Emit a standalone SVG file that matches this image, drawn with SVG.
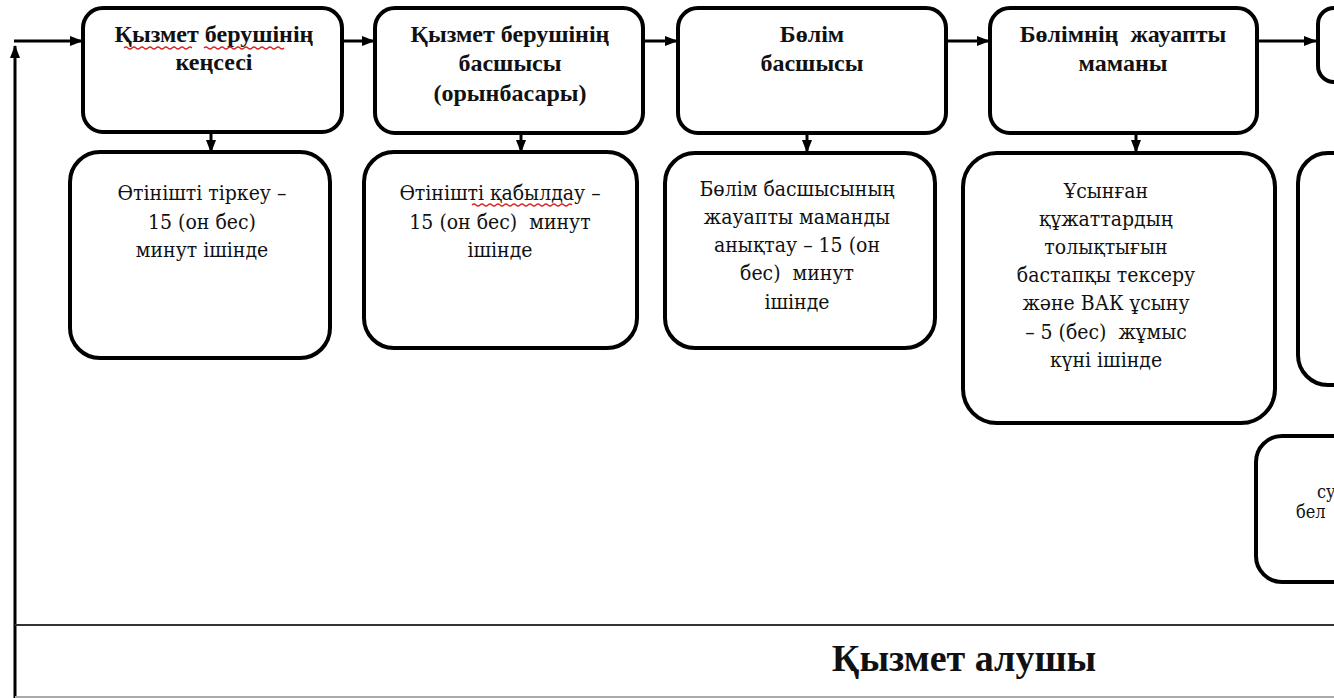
<svg xmlns="http://www.w3.org/2000/svg" width="1334" height="698" viewBox="0 0 1334 698">
<defs>
<style>
.box{fill:#fff;stroke:#000;stroke-width:4}
.con{fill:none;stroke:#000;stroke-width:3}
.t{font-family:"Liberation Serif","Times New Roman",serif;font-weight:bold;font-size:24px;fill:#111;text-anchor:middle}
.b{font-family:"DejaVu Serif Condensed","DejaVu Serif",serif;font-stretch:condensed;font-size:21px;fill:#111;text-anchor:middle}
.s{font-family:"DejaVu Serif Condensed","DejaVu Serif",serif;font-stretch:condensed;font-size:18px;fill:#111}
.wave{fill:none;stroke:#d22;stroke-width:1.2}
</style>
<marker id="ah" markerWidth="13" markerHeight="12" refX="12" refY="6" orient="auto" markerUnits="userSpaceOnUse">
<path d="M0,1 L13,6 L0,11 Z" fill="#000"/>
</marker>
</defs>
<rect width="1334" height="698" fill="#fff"/>

<g id="connectors">
<path class="con" d="M15,698 V46" marker-end="url(#ah)"/>
<path class="con" d="M14,41 H82" marker-end="url(#ah)"/>
<path class="con" d="M342,41 H374" marker-end="url(#ah)"/>
<path class="con" d="M643,41 H677" marker-end="url(#ah)"/>
<path class="con" d="M946,41 H989" marker-end="url(#ah)"/>
<path class="con" d="M1257,41 H1316" marker-end="url(#ah)"/>
<path class="con" d="M211,132 V152" marker-end="url(#ah)"/>
<path class="con" d="M521,133 V152" marker-end="url(#ah)"/>
<path class="con" d="M807,133 V152" marker-end="url(#ah)"/>
<path class="con" d="M1136,133 V152" marker-end="url(#ah)"/>
</g>

<g id="n1"><rect class="box" x="83" y="8" width="259" height="124" rx="20"/>
<text class="t" x="214" y="42">Қызмет берушінің</text><text class="t" x="214" y="70">кеңсесі</text>
<path class="wave" d="M124,48 q2,-2 4,0 t4,0 t4,0 t4,0 t4,0 t4,0 t4,0 t4,0 t4,0 t4,0 t4,0 t4,0 t4,0 t4,0 t4,0 t4,0 t4,0"/>
<path class="wave" d="M204,48 q2,-2 4,0 t4,0 t4,0 t4,0 t4,0 t4,0 t4,0 t4,0 t4,0 t4,0 t4,0 t4,0 t4,0 t4,0 t4,0 t4,0 t4,0 t4,0 t4,0 t4,0"/>
</g>
<g id="n2"><rect class="box" x="375" y="8" width="268" height="125" rx="20"/>
<text class="t" x="510" y="42">Қызмет берушінің</text><text class="t" x="510" y="71">басшысы</text><text class="t" x="510" y="101">(орынбасары)</text></g>
<g id="n3"><rect class="box" x="678" y="8" width="268" height="125" rx="20"/>
<text class="t" x="812" y="42">Бөлім</text><text class="t" x="812" y="71">басшысы</text></g>
<g id="n4"><rect class="box" x="990" y="8" width="267" height="125" rx="20"/>
<text class="t" x="1123" y="42" xml:space="preserve">Бөлімнің  жауапты</text><text class="t" x="1123" y="71">маманы</text></g>
<g id="n5"><rect class="box" x="1318" y="8" width="60" height="74" rx="16"/></g>

<g id="n6"><rect class="box" x="70" y="152" width="260" height="206" rx="30"/>
<text class="b" x="202" y="200">Өтінішті тіркеу –</text><text class="b" x="202" y="229">15 (он бес)</text><text class="b" x="202" y="257">минут ішінде</text></g>
<g id="n7"><rect class="box" x="364" y="152" width="273" height="196" rx="30"/>
<text class="b" x="500" y="200">Өтінішті қабылдау –</text><text class="b" x="500" y="229" xml:space="preserve">15 (он бес)  минут</text><text class="b" x="500" y="257">ішінде</text>
<path class="wave" d="M472,205 q2,-2 4,0 t4,0 t4,0 t4,0 t4,0 t4,0 t4,0 t4,0 t4,0 t4,0 t4,0 t4,0 t4,0 t4,0 t4,0 t4,0 t4,0 t4,0 t4,0 t4,0 t4,0 t4,0 t4,0 t4,0 t4,0"/>
</g>
<g id="n8"><rect class="box" x="665" y="153" width="270" height="195" rx="30"/>
<text class="b" x="797" y="196">Бөлім басшысының</text><text class="b" x="797" y="224">жауапты маманды</text><text class="b" x="797" y="252">анықтау – 15 (он</text><text class="b" x="797" y="280" xml:space="preserve">бес)  минут</text><text class="b" x="797" y="309">ішінде</text></g>
<g id="n9"><rect class="box" x="963" y="153" width="312" height="270" rx="34"/>
<text class="b" x="1106" y="198">Ұсынған</text><text class="b" x="1106" y="226">құжаттардың</text><text class="b" x="1106" y="254">толықтығын</text><text class="b" x="1106" y="282">бастапқы тексеру</text><text class="b" x="1106" y="310">және ВАК ұсыну</text><text class="b" x="1106" y="339" xml:space="preserve">– 5 (бес)  жұмыс</text><text class="b" x="1106" y="367">күні ішінде</text></g>
<g id="n10"><rect class="box" x="1298" y="153" width="80" height="232" rx="30"/></g>
<g id="n11"><rect class="box" x="1256" y="436" width="120" height="146" rx="26"/>
<text class="s" x="1317" y="498">су</text><text class="s" x="1296" y="518">бел</text></g>

<g id="n12">
<line x1="15" y1="625" x2="1334" y2="625" stroke="#333" stroke-width="2"/>
<line x1="15" y1="697" x2="1334" y2="697" stroke="#aaa" stroke-width="2"/>
<text x="964" y="671" font-family="'Liberation Serif','Times New Roman',serif" font-weight="bold" font-size="38" fill="#111" text-anchor="middle">Қызмет алушы</text>
</g>
</svg>
